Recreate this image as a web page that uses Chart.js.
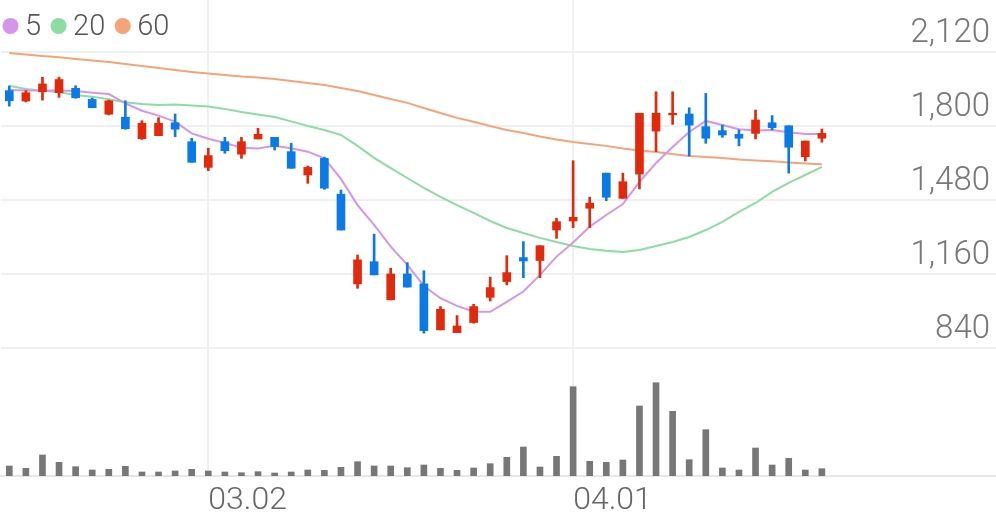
<!DOCTYPE html>
<html>
<head>
<meta charset="utf-8">
<script src="https://cdn.jsdelivr.net/npm/chart.js@4.4.1/dist/chart.umd.min.js"></script>
<style>
  html, body { margin: 0; padding: 0; background: #fff; }
  #wrap { width: 996px; height: 519px; }
</style>
</head>
<body>
<div id="wrap"><canvas id="myChart"></canvas></div>
<script>
// trading days (MM.DD)
const dates = [
  '02.13', '02.14', '02.17', '02.18', '02.19', '02.20', '02.21', '02.24', '02.25', '02.26',
  '02.27', '02.28', '03.02', '03.03', '03.04', '03.05', '03.06', '03.09', '03.10', '03.11',
  '03.12', '03.13', '03.16', '03.17', '03.18', '03.19', '03.20', '03.23', '03.24', '03.25',
  '03.26', '03.27', '03.30', '03.31', '04.01', '04.02', '04.03', '04.06', '04.07', '04.08',
  '04.09', '04.10', '04.13', '04.14', '04.16', '04.17', '04.20', '04.21', '04.22', '04.23'
];
const opens = [
  1953, 1908, 1948, 1944, 1963, 1915, 1851, 1838, 1745, 1758,
  1814, 1732, 1621, 1732, 1678, 1744, 1751, 1689, 1588, 1660,
  1505, 1117, 1213, 1048, 1160, 1117, 918, 906, 950, 1059,
  1127, 1231, 1218, 1350, 1389, 1444, 1596, 1487, 1592, 1778,
  1848, 1852, 1797, 1780, 1764, 1768, 1814, 1801, 1667, 1747
];
const highs = [
  1973, 1953, 2011, 2011, 1974, 1921, 1912, 1909, 1823, 1836,
  1852, 1747, 1704, 1751, 1751, 1790, 1751, 1725, 1627, 1665,
  1523, 1242, 1332, 1185, 1209, 1174, 1019, 980, 1029, 1146,
  1239, 1300, 1282, 1401, 1650, 1492, 1596, 1596, 1855, 1948,
  1948, 1879, 1941, 1804, 1783, 1869, 1845, 1801, 1735, 1787
];
const lows = [
  1886, 1904, 1912, 1924, 1920, 1879, 1848, 1786, 1742, 1758,
  1754, 1643, 1607, 1682, 1660, 1744, 1696, 1617, 1552, 1526,
  1350, 1098, 1156, 1048, 1103, 904, 918, 906, 947, 1043,
  1113, 1144, 1144, 1314, 1360, 1360, 1477, 1487, 1528, 1689,
  1807, 1670, 1725, 1751, 1714, 1744, 1783, 1596, 1649, 1730
];
const closes = [
  1909, 1944, 1982, 2001, 1922, 1879, 1909, 1788, 1812, 1812,
  1786, 1643, 1672, 1693, 1732, 1764, 1711, 1617, 1621, 1531,
  1350, 1221, 1156, 1160, 1103, 915, 1007, 935, 1019, 1101,
  1166, 1216, 1282, 1386, 1405, 1466, 1492, 1559, 1855, 1855,
  1855, 1804, 1747, 1761, 1747, 1826, 1793, 1708, 1735, 1768
];
// volume, thousand shares
const volumes = [
  200, 154, 420, 274, 186, 120, 134, 194, 80, 80,
  100, 134, 100, 80, 66, 86, 60, 80, 120, 114,
  174, 286, 200, 200, 166, 220, 154, 114, 160, 246,
  374, 580, 180, 394, 1786, 294, 274, 320, 1400, 1866,
  1294, 326, 926, 160, 120, 560, 220, 354, 120, 146
];
const ma5 = [
  1956, 1954, 1953, 1953, 1951, 1944, 1938, 1898, 1866, 1845,
  1819, 1768, 1745, 1727, 1706, 1703, 1714, 1704, 1689, 1660,
  1571, 1458, 1372, 1278, 1199, 1108, 1055, 1022, 997, 996,
  1039, 1084, 1156, 1235, 1296, 1365, 1415, 1462, 1558, 1640,
  1709, 1774, 1822, 1804, 1786, 1780, 1783, 1773, 1765, 1765
];
const ma20 = [
  1974, 1960, 1953, 1946, 1934, 1927, 1916, 1903, 1895, 1891,
  1893, 1889, 1884, 1874, 1861, 1850, 1839, 1820, 1800, 1783,
  1761, 1714, 1662, 1618, 1575, 1532, 1493, 1458, 1424, 1389,
  1359, 1337, 1316, 1298, 1281, 1268, 1260, 1255, 1264, 1281,
  1298, 1320, 1350, 1385, 1428, 1467, 1515, 1554, 1588, 1623
];
const ma60 = [
  2116, 2109, 2103, 2097, 2090, 2083, 2077, 2068, 2060, 2051,
  2042, 2034, 2027, 2021, 2014, 2010, 2003, 1995, 1986, 1977,
  1964, 1951, 1934, 1917, 1900, 1878, 1856, 1835, 1818, 1800,
  1783, 1770, 1755, 1742, 1731, 1722, 1714, 1703, 1694, 1688,
  1679, 1670, 1666, 1662, 1655, 1651, 1647, 1642, 1638, 1634
];
const priceTicks = [840, 1160, 1480, 1800, 2120];
const emptySlots = 10;

const UP = '#e2290c';
const DOWN = '#0b7ae9';
const FONT = 'Roboto';

const labels = dates.concat(Array(emptySlots).fill(''));
const candleColor = ctx => closes[ctx.dataIndex] >= opens[ctx.dataIndex] ? UP : DOWN;
const isMonthStart = i => i > 0 && i < dates.length && dates[i].slice(0, 2) !== dates[i - 1].slice(0, 2);

// small legend drawn over the top-left corner
const maLegend = {
  id: 'maLegend',
  afterDraw(chart) {
    const ctx = chart.ctx;
    let x = 2;
    ctx.save();
    ctx.font = '300 29px ' + FONT;
    ctx.textBaseline = 'alphabetic';
    chart.data.datasets.filter(d => d.type === 'line').forEach(d => {
      ctx.fillStyle = d.borderColor;
      ctx.beginPath();
      ctx.arc(x + 8.5, 26, 8, 0, Math.PI * 2);
      ctx.fill();
      x += 23;
      ctx.fillStyle = '#555';
      ctx.fillText(d.label, x, 35);
      x += ctx.measureText(d.label).width + 9;
    });
    ctx.restore();
  }
};

const ctx = document.getElementById('myChart').getContext('2d');
new Chart(ctx, {
  type: 'bar',
  data: {
    labels: labels,
    datasets: [
      {
        label: 'wick',
        data: lows.map((l, i) => [l, highs[i]]),
        backgroundColor: candleColor,
        barThickness: 2,
        grouped: false,
        yAxisID: 'y',
        order: 0
      },
      {
        label: 'body',
        data: opens.map((o, i) => [o, closes[i]]),
        backgroundColor: candleColor,
        barThickness: 8,
        grouped: false,
        yAxisID: 'y',
        order: 0
      },
      {
        type: 'line',
        label: '5',
        data: ma5,
        borderColor: '#d595ea',
        borderWidth: 2,
        pointRadius: 0,
        yAxisID: 'y',
        order: 1
      },
      {
        type: 'line',
        label: '20',
        data: ma20,
        borderColor: '#8ddca4',
        borderWidth: 2,
        pointRadius: 0,
        yAxisID: 'y',
        order: 1
      },
      {
        type: 'line',
        label: '60',
        data: ma60,
        borderColor: '#f5a47a',
        borderWidth: 2,
        pointRadius: 0,
        yAxisID: 'y',
        order: 1
      },
      {
        label: 'volume',
        data: volumes,
        backgroundColor: '#777777',
        barThickness: 6,
        grouped: false,
        yAxisID: 'yv',
        order: 2
      }
    ]
  },
  options: {
    responsive: true,
    maintainAspectRatio: false,
    animation: false,
    layout: { padding: { left: 1, right: 0, top: 0, bottom: 0 } },
    scales: {
      x: {
        afterFit: axis => {
          axis.height = 43;
          axis.paddingLeft = 0;
          axis.paddingRight = 0;
        },
        ticks: {
          autoSkip: false,
          maxRotation: 0,
          align: 'start',
          padding: 6,
          color: '#666',
          font: { family: FONT, size: 32, weight: '300' },
          callback: (v, i) => isMonthStart(i) ? dates[i] : ''
        },
        grid: {
          offset: false,
          drawTicks: false,
          lineWidth: 2,
          color: c => isMonthStart(c.index) ? '#f0f0f0' : 'rgba(0,0,0,0)'
        },
        border: { color: '#e6e6e6', width: 2 }
      },
      y: {
        position: 'right',
        min: 286,
        max: 2345,
        afterBuildTicks: axis => { axis.ticks = priceTicks.map(v => ({ value: v })); },
        afterFit: axis => {
          axis.width = 0;
          axis.paddingTop = 0;
          axis.paddingBottom = 0;
        },
        ticks: {
          mirror: true,
          padding: -6,
          labelOffset: -18,
          color: '#777',
          font: { family: FONT, size: 33, weight: '300' },
          callback: v => v.toLocaleString('en-US')
        },
        grid: { color: '#f0f0f0', lineWidth: 2, drawTicks: false },
        border: { display: false }
      },
      yv: {
        position: 'left',
        display: false,
        min: 0,
        max: 9520
      }
    },
    plugins: {
      legend: { display: false },
      tooltip: { enabled: false }
    }
  },
  plugins: [maLegend]
});
</script>
</body>
</html>
